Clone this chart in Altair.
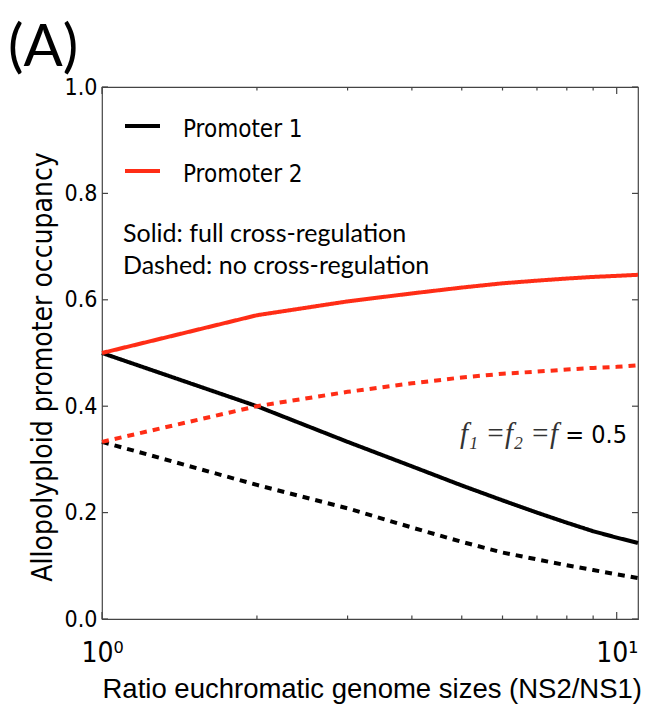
import altair as alt
import pandas as pd

# ---- data ----
ratio = [1, 2, 3, 4, 5, 6, 7, 8, 9, 10, 11]
p1_full = [0.500, 0.400, 0.333, 0.287, 0.251, 0.223, 0.200, 0.181, 0.165, 0.153, 0.143]
p2_full = [0.500, 0.571, 0.597, 0.612, 0.623, 0.631, 0.636, 0.640, 0.643, 0.645, 0.647]
p1_none = [0.333, 0.252, 0.208, 0.172, 0.145, 0.125, 0.112, 0.101, 0.092, 0.084, 0.077]
p2_none = [0.333, 0.400, 0.427, 0.443, 0.454, 0.461, 0.465, 0.469, 0.472, 0.474, 0.477]

promoters = ["Promoter 1", "Promoter 2"]
regulations = ["full", "none"]
y_ticks = [0.0, 0.2, 0.4, 0.6, 0.8, 1.0]
x_major = [1, 10]
x_minor = [2, 3, 4, 5, 6, 7, 8, 9]

rows = []
for prom, reg, vals in [
    ("Promoter 1", "full", p1_full),
    ("Promoter 2", "full", p2_full),
    ("Promoter 1", "none", p1_none),
    ("Promoter 2", "none", p2_none),
]:
    for r, v in zip(ratio, vals):
        rows.append({"ratio": r, "occupancy": v, "promoter": prom, "regulation": reg})
df = pd.DataFrame(rows)

W, H = 536, 532
RED = "#ff2d16"
AXC = "#444444"
SANS = "DejaVu Sans Condensed, Liberation Sans Narrow, DejaVu Sans"
TXT = "Lato, DejaVu Sans"

xscale = alt.Scale(type="log", domain=[1, 11], nice=False)
yscale = alt.Scale(domain=[0, 1], nice=False)

lines = alt.Chart(df).mark_line(strokeWidth=4, strokeCap="butt").encode(
    x=alt.X(
        "ratio:Q",
        scale=xscale,
        axis=alt.Axis(
            values=x_major,
            labelExpr="datum.value < 5 ? '10⁰' : '10¹'",
            ticks=False, tickSize=0, domain=False, grid=False,
            labelFont=SANS, labelFontSize=28, labelColor="black",
            labelPadding=20, labelFlush=False,
            title="Ratio euchromatic genome sizes (NS2/NS1)",
            titleFont="Liberation Sans", titleFontSize=27.5, titleFontWeight="normal",
            titleColor="black", titleAlign="left", titleAnchor="start",
            titleX=0, titleY=78, titleBaseline="alphabetic",
        ),
    ),
    y=alt.Y(
        "occupancy:Q",
        scale=yscale,
        axis=alt.Axis(
            values=y_ticks, format=".1f",
            ticks=False, tickSize=0, domain=False, grid=False,
            labelFont=SANS, labelFontSize=23, labelColor="black", labelPadding=5,
            title="Allopolyploid promoter occupancy",
            titleFont=SANS, titleFontSize=28, titleFontWeight="normal", titleColor="black",
            titleAngle=270, titleAlign="center", titleX=-51, titleY=279.5,
            titleBaseline="alphabetic",
        ),
    ),
    color=alt.Color("promoter:N", scale=alt.Scale(domain=promoters, range=["black", RED]), legend=None),
    strokeDash=alt.StrokeDash("regulation:N", scale=alt.Scale(domain=regulations, range=[[1, 0], [7, 6]]), legend=None),
)

ydf = pd.DataFrame({"occupancy": y_ticks})
xmaj = pd.DataFrame({"ratio": x_major})
xmin = pd.DataFrame({"ratio": x_minor})

def yt(x0, x1):
    return alt.Chart(ydf).mark_rule(color=AXC, strokeWidth=1.2).encode(
        y=alt.Y("occupancy:Q", scale=yscale), x=alt.value(x0), x2=alt.value(x1))

def xt(d, y0, y1):
    return alt.Chart(d).mark_rule(color=AXC, strokeWidth=1.2).encode(
        x=alt.X("ratio:Q", scale=xscale), y=alt.value(y0), y2=alt.value(y1))

ticks = [
    yt(0, 6), yt(W - 6, W),
    xt(xmaj, H, H - 7), xt(xmaj, 0, 7),
    xt(xmin, H, H - 3.5), xt(xmin, 0, 3.5),
]

one = pd.DataFrame({"k": [0]})

def label(text, x, y, font, size, color="black", align="left", baseline="alphabetic", style="normal"):
    return alt.Chart(one).mark_text(
        text=text, font=font, fontSize=size, color=color, align=align,
        baseline=baseline, fontStyle=style,
    ).encode(x=alt.value(x), y=alt.value(y))

def legline(y, color):
    return alt.Chart(one).mark_rule(color=color, strokeWidth=4).encode(
        x=alt.value(23), x2=alt.value(58), y=alt.value(y))

deco = [
    legline(39, "black"), legline(84, RED),
    label("Promoter 1", 81, 50, SANS, 24),
    label("Promoter 2", 81, 95, SANS, 24),
    label("Solid: full cross-regulation", 21, 155, TXT, 25),
    label("Dashed: no cross-regulation", 21, 187, TXT, 25),
    label("f₁ =f₂ =f", 456, 356, "Liberation Serif", 29, color="#333333", align="right", style="italic"),
    label("= 0.5", 525, 356, SANS, 25, align="right"),
    label("(A)", -94, -21, TXT, 58),
]

chart = alt.layer(lines, *ticks, *deco).properties(
    width=W, height=H,
    autosize=alt.AutoSizeParams(type="none"),
    padding={"left": 102, "top": 87, "right": 7, "bottom": 86},
    background="white",
).configure_view(stroke=AXC, strokeWidth=1.2)

chart.save("out.html", embed_options={"renderer": "svg", "actions": False})
